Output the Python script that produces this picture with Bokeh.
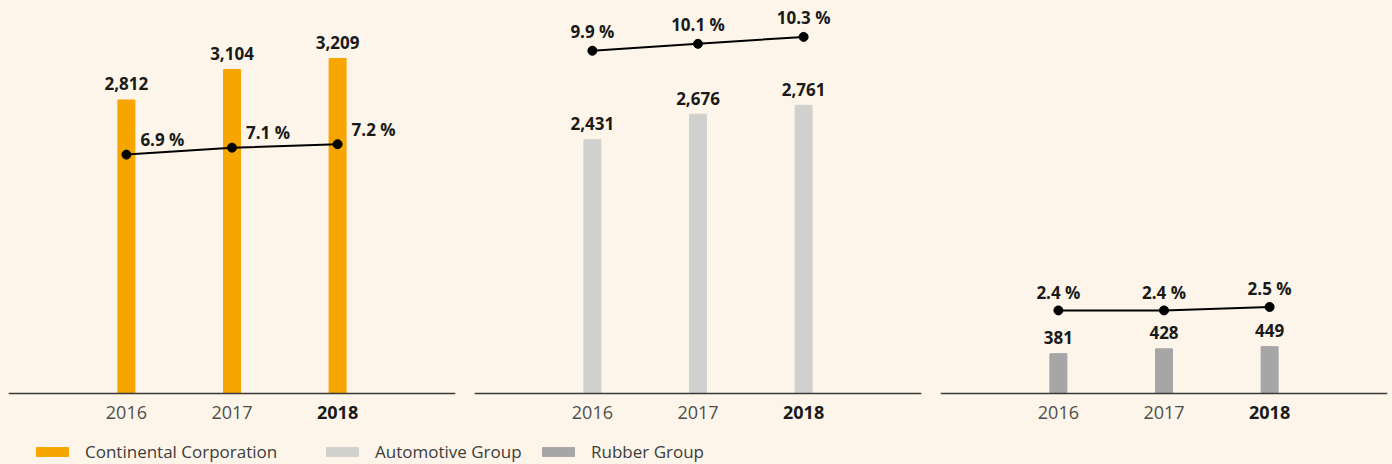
from bokeh.plotting import figure
from bokeh.layouts import row, column
from bokeh.models import (Range1d, FixedTicker, LinearAxis, Legend, LegendItem,
                          ColumnDataSource)
from bokeh.embed import file_html
from bokeh.resources import INLINE
from bokeh.core.properties import value

# ---------------- data ----------------
years = ["2016", "2017", "2018"]
series_names = ["Continental Corporation", "Automotive Group", "Rubber Group"]
continental = [2812, 3104, 3209]
automotive = [2431, 2676, 2761]
rubber = [381, 428, 449]
continental_pct = [6.9, 7.1, 7.2]
automotive_pct = [9.9, 10.1, 10.3]
rubber_pct = [2.4, 2.4, 2.5]

# ---------------- style ----------------
BG = "#FDF5E9"
COLORS = ["#F7A600", "#D0D1CF", "#A6A6A6"]
FONT = "Open Sans"
UNIT_PX = 105.6
ABOVE_PX = 385      # frame pixels above the zero line
BELOW_PX = 35       # frame pixels below the zero line (tick labels)
Y_END = 3688
PCT_END = 11.12

x_pos = list(range(len(years)))


def style_axis(ax, bold):
    ax.major_tick_line_color = None
    ax.minor_tick_line_color = None
    ax.major_label_standoff = 6
    ax.major_label_text_font = FONT
    ax.major_label_text_font_size = "18px"
    if bold:
        ax.major_label_text_font_style = "bold"
        ax.major_label_text_color = "#1a1a1a"
    else:
        ax.major_label_text_color = "#4e4e4e"


def panel(values, pcts, color, left_border, right_border, pct_align, pct_dx, pct_dy):
    frame_w = 447
    x_start = 1 - frame_w / 2 / UNIT_PX
    x_end = x_start + frame_w / UNIT_PX
    y_start = -Y_END * BELOW_PX / ABOVE_PX
    pct_start = -PCT_END * BELOW_PX / ABOVE_PX
    p = figure(frame_width=frame_w, frame_height=ABOVE_PX + BELOW_PX,
               x_range=Range1d(x_start, x_end), y_range=Range1d(y_start, Y_END),
               y_axis_location=None, output_backend="svg", toolbar_location=None,
               min_border_left=left_border, min_border_right=right_border,
               min_border_top=8, min_border_bottom=0,
               background_fill_color=BG, border_fill_color=BG,
               outline_line_color=None, styles={"background-color": BG})
    p.extra_y_ranges = {"pct": Range1d(pct_start, PCT_END)}
    p.xgrid.visible = False
    p.ygrid.visible = False

    # regular year labels + axis line
    ax = p.xaxis[0]
    ax.fixed_location = 0
    ax.ticker = FixedTicker(ticks=x_pos[:-1])
    ax.major_label_overrides = {x: y for x, y in zip(x_pos[:-1], years[:-1])}
    ax.axis_line_color = "#3a3a3a"
    ax.axis_line_width = 1.5
    style_axis(ax, False)

    # current year label in bold
    ax2 = LinearAxis(fixed_location=0, ticker=FixedTicker(ticks=x_pos[-1:]),
                     major_label_overrides={x_pos[-1]: years[-1]},
                     axis_line_color=None)
    style_axis(ax2, True)
    p.add_layout(ax2, "below")

    src = ColumnDataSource(dict(
        x=x_pos, top=values,
        label=[f"{v:,}" for v in values],
        pct=pcts, pct_label=[f"{v:.1f} %" for v in pcts]))

    p.vbar(x="x", top="top", bottom=0, width=17 / UNIT_PX, color=color, source=src)
    p.text(x="x", y="top", text="label", source=src, text_align="center",
           text_baseline="alphabetic", y_offset=-16, text_font=value(FONT),
           text_font_style="bold", text_font_size="17px", text_color="#1a1a1a")
    p.line(x="x", y="pct", y_range_name="pct", line_color="black", line_width=2,
           source=src)
    p.scatter(x="x", y="pct", y_range_name="pct", size=9, color="black", source=src)
    p.text(x="x", y="pct", text="pct_label", y_range_name="pct", source=src,
           text_align=pct_align, text_baseline="alphabetic", x_offset=pct_dx,
           y_offset=pct_dy, text_font=value(FONT), text_font_style="bold",
           text_font_size="17px", text_color="#1a1a1a")
    return p


p1 = panel(continental, continental_pct, COLORS[0], 8, 19, "left", 14, -15)
p2 = panel(automotive, automotive_pct, COLORS[1], 0, 19, "center", 0, -19)
p3 = panel(rubber, rubber_pct, COLORS[2], 0, 5, "center", 0, -18)

lf = figure(width=1392, height=36, x_range=Range1d(0, 1), y_range=Range1d(0, 1),
            x_axis_location=None, y_axis_location=None, toolbar_location=None,
            output_backend="svg", min_border=0, outline_line_color=None,
            background_fill_color=BG, border_fill_color=BG,
            styles={"background-color": BG})
lf.xgrid.visible = False
lf.ygrid.visible = False
for name, color, lx in zip(series_names, COLORS, [32, 322, 538]):
    r = lf.vbar(x=[5], top=[0.5], width=0.1, color=color)
    leg = Legend(items=[LegendItem(label=name, renderers=[r])], location=(lx, 1),
                 padding=0, margin=0, spacing=0, glyph_width=40, glyph_height=11,
                 label_standoff=13, label_height=20,
                 label_text_font=FONT, label_text_font_size="17px",
                 label_text_color="#3c3c3c", border_line_color=None,
                 background_fill_alpha=0)
    lf.add_layout(leg)

layout = column(row(p1, p2, p3, spacing=0, styles={"background-color": BG}), lf,
                spacing=0, styles={"background-color": BG})

open("out.html", "w").write(file_html(layout, INLINE))
